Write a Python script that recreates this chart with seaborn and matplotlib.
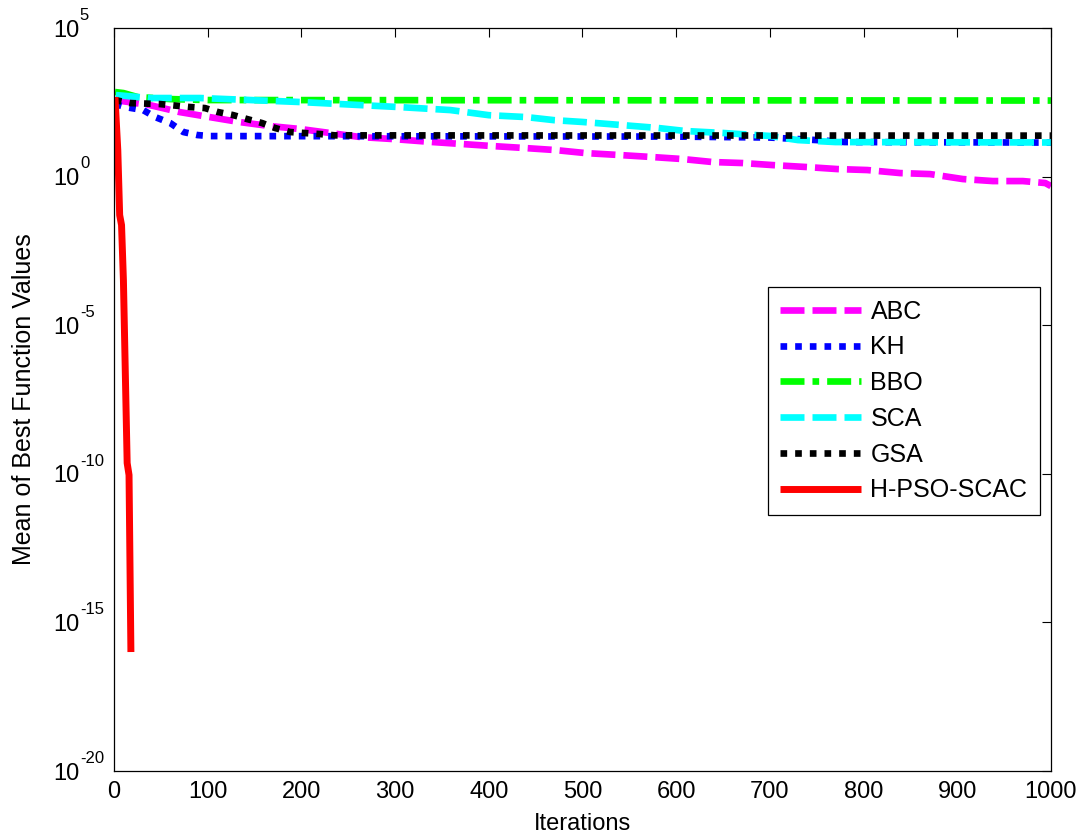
import numpy as np
import pandas as pd
import matplotlib
matplotlib.use("Agg")
import matplotlib.pyplot as plt
import seaborn as sns

# ---------------- data ----------------
abc_iter = [1, 38, 70, 102, 134, 166, 199, 231, 263, 298, 340, 372, 404, 439, 471, 503,
            540, 575, 607, 639, 671, 703, 740, 772, 804, 839, 871, 906, 938, 970, 994, 1000]
abc_val = [378, 256, 149, 101, 68.7, 50.5, 40.0, 29.3, 21.5, 18.4, 14.6, 12.5, 10.7, 9.16, 7.85, 6.22,
           5.33, 4.56, 3.91, 3.10, 2.87, 2.45, 2.10, 1.80, 1.67, 1.32, 1.22, 0.83, 0.71, 0.71, 0.61, 0.48]

kh_iter = [1, 12, 31, 44, 60, 74, 89, 102, 600, 700, 750, 780, 1000]
kh_val = [277, 220, 174, 101, 63.5, 31.7, 25.1, 23.2, 22.3, 20.7, 17.0, 14.6, 14.0]

bbo_iter = [1, 10, 25, 60, 100, 1000]
bbo_val = [703, 650, 477, 408, 378, 364]

sca_iter = [2, 38, 92, 199, 305, 359, 400, 440, 470, 500, 540, 580, 610, 650, 700, 730, 770, 1000]
sca_val = [556, 442, 442, 324, 219, 174, 117, 101, 79.4, 69.2, 55.0, 43.6, 34.3, 29.5, 23.4, 17.0, 14.6, 14.1]

gsa_iter = [1, 17, 49, 81, 97, 111, 127, 142, 158, 172, 188, 204, 220, 236, 1000]
gsa_val = [378, 299, 277, 220, 203, 149, 118, 86.7, 63.5, 43.2, 31.7, 29.3, 27.1, 24.5, 24.0]

hpso_iter = [1, 4, 6, 8, 10, 14, 16, 18]
hpso_val = [476, 7.85, 0.051, 0.0235, 3.32e-4, 2.31e-10, 9.1e-11, 1.01e-16]

series_names = ["ABC", "KH", "BBO", "SCA", "GSA", "H-PSO-SCAC"]
x_ticks = [0, 100, 200, 300, 400, 500, 600, 700, 800, 900, 1000]
y_ticks = [1e-20, 1e-15, 1e-10, 1e-5, 1e0, 1e5]
y_tick_base = "10"
y_tick_exponents = ["-20", "-15", "-10", "-5", "0", "5"]
x_label = "Iterations"
y_label = "Mean of Best Function Values"

# ---------------- style ----------------
sns.set_style("white")
plt.rcParams["font.family"] = ["Liberation Sans", "DejaVu Sans"]
for k in ["text.color", "axes.labelcolor", "xtick.color", "ytick.color", "axes.edgecolor"]:
    plt.rcParams[k] = "black"
FS = 17

fig = plt.figure(figsize=(10.82, 8.4), dpi=100)
ax = fig.add_axes([0.1054, 0.0821, 0.8659, 0.8845])

iters = [abc_iter, kh_iter, bbo_iter, sca_iter, gsa_iter, hpso_iter]
vals = [abc_val, kh_val, bbo_val, sca_val, gsa_val, hpso_val]
colors = ["#ff00ff", "#0000ff", "#00ff00", "#00ffff", "#000000", "#ff0000"]
styles = [(0, (3.6, 1.2)), (0, (1.0, 1.2)), (0, (3.6, 1.2, 1.0, 1.2)),
          (0, (3.6, 1.2)), (0, (1.0, 1.2)), "-"]
widths = [4.8, 4.8, 4.8, 4.8, 4.8, 5.0]

for name, it, vv, c, ls, lw in zip(series_names, iters, vals, colors, styles, widths):
    df = pd.DataFrame({"Iteration": it, "Value": vv})
    sns.lineplot(data=df, x="Iteration", y="Value", ax=ax, color=c, linewidth=lw,
                 estimator=None, sort=False, label=name)
    ln = ax.lines[-1]
    ln.set_linestyle(ls)
    ln.set_dash_capstyle("butt")
    ln.set_solid_capstyle("butt")

ax.set_yscale("log")
ax.set_xlim(0, 1000)
ax.set_ylim(1e-20, 1e5)
ax.set_xticks(x_ticks)
ax.set_xticklabels([str(t) for t in x_ticks], fontsize=FS)
ax.set_yticks(y_ticks)
ax.set_yticklabels([y_tick_base] * len(y_ticks), fontsize=FS)
ax.yaxis.set_minor_locator(matplotlib.ticker.NullLocator())
ax.tick_params(axis="both", which="major", direction="in", length=6.5, width=0.8,
               top=True, right=True, colors="black")
ax.tick_params(axis="x", pad=7)
ax.tick_params(axis="y", pad=44)
for lab in ax.get_yticklabels():
    lab.set_horizontalalignment("left")
    lab.set_verticalalignment("center_baseline")

# exponents of the y tick labels (MATLAB style superscripts)
for t, e in zip(y_ticks, y_tick_exponents):
    ax.annotate(e, xy=(0, t), xycoords=("axes fraction", "data"),
                xytext=(-24.6, 6.0), textcoords="offset points",
                ha="left", va="baseline", fontsize=12, color="black",
                annotation_clip=False)

for sp in ax.spines.values():
    sp.set_visible(True)
    sp.set_color("black")
    sp.set_linewidth(0.9)

ax.set_xlabel(x_label, fontsize=FS)
ax.set_ylabel(y_label, fontsize=18)
ax.xaxis.set_label_coords(0.5, -0.0565)
ax.yaxis.set_label_coords(-0.083, 0.5)

leg = ax.legend(loc="upper right", bbox_to_anchor=(0.9883, 0.6514), borderaxespad=0,
                frameon=True, fancybox=False, edgecolor="black", framealpha=1,
                fontsize=18, handlelength=3.25, handletextpad=0.36, labelspacing=0.47,
                borderpad=0.5)
leg.get_frame().set_linewidth(0.9)

fig.savefig("out.png", dpi=100)
